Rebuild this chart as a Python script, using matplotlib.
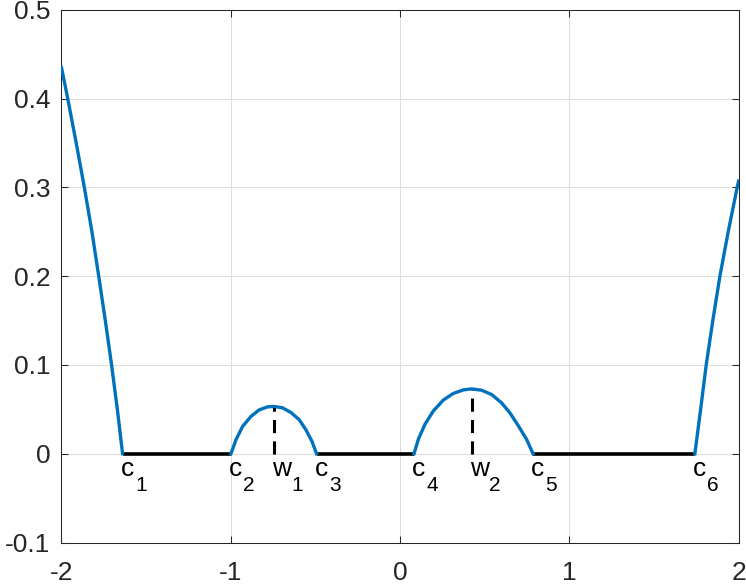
import numpy as np
import matplotlib
matplotlib.use('Agg')
import matplotlib.pyplot as plt

plt.rcParams['font.family'] = ['Liberation Sans', 'DejaVu Sans']
plt.rcParams['axes.unicode_minus'] = False

blue = '#0072BD'
axis_color = '#262626'

# branches of the curve
left_x = [-2.0, -1.963, -1.913, -1.865, -1.820, -1.780, -1.741, -1.704, -1.670, -1.639]
left_y = [0.435, 0.40, 0.35, 0.30, 0.25, 0.20, 0.15, 0.10, 0.05, 0.0]

bump1_x = [-0.999, -0.969, -0.930, -0.881, -0.832, -0.782, -0.743,
           -0.694, -0.644, -0.595, -0.556, -0.520, -0.493]
bump1_y = [0.0, 0.0157, 0.0307, 0.0419, 0.0494, 0.0528, 0.0532,
           0.0517, 0.0464, 0.0382, 0.0270, 0.0139, 0.0]

bump2_x = [0.083, 0.108, 0.147, 0.196, 0.255, 0.314, 0.374, 0.423,
           0.482, 0.541, 0.600, 0.649, 0.698, 0.748, 0.786]
bump2_y = [0.0, 0.0161, 0.0330, 0.0479, 0.0603, 0.0678, 0.0719, 0.0730,
           0.0715, 0.0667, 0.0573, 0.0461, 0.0318, 0.0161, 0.0]

right_x = [1.742, 1.776, 1.809, 1.848, 1.890, 1.939, 1.992, 2.0]
right_y = [0.0, 0.05, 0.10, 0.15, 0.20, 0.25, 0.30, 0.307]

# points on the axis
c_vals = [-1.639, -0.999, -0.493, 0.083, 0.786, 1.742]
c_subs = ['1', '2', '3', '4', '5', '6']
w_vals = [-0.743, 0.423]
w_peaks = [0.0532, 0.0730]
w_subs = ['1', '2']

x_ticks = [-2, -1, 0, 1, 2]
y_ticks = [-0.1, 0, 0.1, 0.2, 0.3, 0.4, 0.5]
y_ticklabels = ['-0.1', '0', '0.1', '0.2', '0.3', '0.4', '0.5']

fig = plt.figure(figsize=(7.46, 5.85), dpi=100)
ax = fig.add_axes([0.0824, 0.0726, 0.9076, 0.9108])

# flat parts on y = 0
for a, b in [(c_vals[0], c_vals[1]), (c_vals[2], c_vals[3]), (c_vals[4], c_vals[5])]:
    ax.plot([a, b], [0, 0], color='black', linewidth=2.6, solid_capstyle='butt', zorder=3)

for xs, ys in [(left_x, left_y), (bump1_x, bump1_y), (bump2_x, bump2_y), (right_x, right_y)]:
    ax.plot(xs, ys, color=blue, linewidth=2.4, zorder=4)

# dashed lines at the maxima
for w, p in zip(w_vals, w_peaks):
    ax.plot([w, w], [0, p], color='black', linewidth=2.2, linestyle=(0, (4.3, 2.7)), zorder=3)

# labels: letter plus subscript digit
def label(x, letter, sub, sub_dx):
    ax.annotate(letter, (x, 0), xytext=(-2, -22), textcoords='offset pixels',
                fontsize=19, ha='left', va='baseline', color='black')
    ax.annotate(sub, (x, 0), xytext=(sub_dx, -37), textcoords='offset pixels',
                fontsize=15, ha='left', va='baseline', color='black')

for c, s in zip(c_vals, c_subs):
    label(c, 'c', s, 12.5)
for w, s in zip(w_vals, w_subs):
    label(w, 'w', s, 17.5)

ax.set_xlim(-2, 2)
ax.set_ylim(-0.1, 0.5)
ax.set_xticks(x_ticks)
ax.set_yticks(y_ticks)
ax.set_xticklabels([str(t) for t in x_ticks])
ax.set_yticklabels(y_ticklabels)
ax.tick_params(direction='in', length=5, width=0.75, colors=axis_color, labelsize=19,
               top=True, right=True, labelcolor='#262626')
ax.tick_params(axis='x', pad=13)
ax.tick_params(axis='y', pad=8)
ax.grid(True, color='#dedede', linewidth=0.75)
ax.set_axisbelow(True)
for s in ax.spines.values():
    s.set_color(axis_color)
    s.set_linewidth(0.75)

fig.savefig('out.png', dpi=100)
